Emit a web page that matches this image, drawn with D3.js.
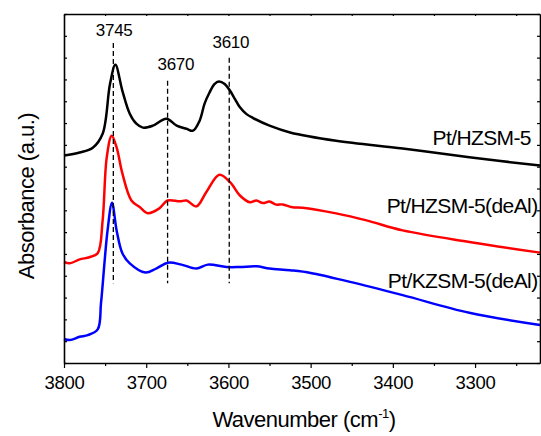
<!DOCTYPE html>
<html>
<head>
<meta charset="utf-8">
<script src="https://cdn.jsdelivr.net/npm/d3@7"></script>
<style>
  body { margin: 0; background: #fff; }
  text { font-family: "Liberation Sans", Arial, sans-serif; fill: #000; }
</style>
</head>
<body>
<div id="chart"></div>
<script>
// Spectra (wavenumber, absorbance a.u.)
const hzsmWave = [3800, 3781, 3765, 3753, 3744, 3737.5, 3729, 3720, 3712, 3704, 3692, 3675.5, 3663, 3651, 3643, 3635, 3629, 3623, 3617, 3611.6, 3604.5, 3598, 3592, 3586, 3578, 3570, 3550, 3525, 3469, 3388, 3307, 3221];
const hzsmAbs  = [0.951, 0.965, 0.987, 1.051, 1.280, 1.367, 1.248, 1.143, 1.097, 1.079, 1.088, 1.120, 1.088, 1.074, 1.065, 1.111, 1.189, 1.240, 1.279, 1.291, 1.279, 1.248, 1.210, 1.172, 1.141, 1.123, 1.088, 1.057, 1.019, 0.983, 0.943, 0.905];

const hdealWave = [3800, 3793, 3781, 3769, 3759, 3753, 3748, 3742, 3736, 3729, 3718, 3708, 3698, 3684, 3674, 3659, 3651, 3639, 3627, 3611, 3598, 3586, 3574, 3566, 3558, 3550, 3542, 3534, 3522, 3510, 3469, 3432, 3388, 3307, 3221];
const hdealAbs  = [0.463, 0.457, 0.475, 0.485, 0.503, 0.654, 0.943, 1.042, 0.989, 0.869, 0.745, 0.715, 0.687, 0.709, 0.745, 0.741, 0.745, 0.718, 0.783, 0.863, 0.829, 0.768, 0.737, 0.745, 0.733, 0.740, 0.726, 0.727, 0.714, 0.712, 0.686, 0.654, 0.608, 0.555, 0.506];

const kdealWave = [3800, 3793, 3781, 3771, 3759, 3755, 3750.5, 3747, 3741.6, 3736, 3729, 3720, 3701, 3688, 3673.5, 3657, 3639, 3625, 3602.5, 3586, 3566, 3550, 3525, 3500, 3452, 3388, 3307, 3221];
const kdealAbs  = [0.110, 0.105, 0.120, 0.128, 0.154, 0.274, 0.471, 0.608, 0.735, 0.608, 0.503, 0.457, 0.415, 0.433, 0.460, 0.451, 0.433, 0.451, 0.440, 0.440, 0.443, 0.433, 0.425, 0.413, 0.372, 0.311, 0.230, 0.174];

const seriesNames  = ["Pt/HZSM-5", "Pt/HZSM-5(deAl)", "Pt/KZSM-5(deAl)"];
const seriesColors = ["#000000", "#ff0000", "#0000ff"];
const seriesWaves  = [hzsmWave, hdealWave, kdealWave];
const seriesAbs    = [hzsmAbs, hdealAbs, kdealAbs];
// where each series name sits (wavenumber at right end, absorbance of baseline)
const nameWave = [3232, 3224, 3224];
const nameAbs  = [1.000, 0.686, 0.343];

// dashed peak markers
const peakLabels = ["3745", "3670", "3610"];
const peakLineWave = [3740, 3674, 3599];
const peakTopAbs   = [1.467, 1.294, 1.399];
const peakBottomAbs = 0.366;
const peakLabelWave = [3739, 3664, 3597];
const peakLabelAbs  = [1.499, 1.344, 1.445];

const xTicks = [3800, 3700, 3600, 3500, 3400, 3300];

const width = 541, height = 436;
const margin = { top: 14, right: 1, bottom: 73, left: 64 };

const svg = d3.select("#chart").append("svg")
    .attr("width", width)
    .attr("height", height);

const x = d3.scaleLinear()
    .domain([3800, 3221])
    .range([margin.left, width - margin.right]);

const y = d3.scaleLinear()
    .domain([0, 1.6])
    .range([height - margin.bottom, margin.top]);

// Curves
const line = d3.line()
    .x(d => x(d[0]))
    .y(d => y(d[1]))
    .curve(d3.curveCatmullRom.alpha(0.5));

seriesNames.forEach((name, i) => {
    const pts = seriesWaves[i].map((w, j) => [w, seriesAbs[i][j]]);
    svg.append("path")
        .datum(pts)
        .attr("fill", "none")
        .attr("stroke", seriesColors[i])
        .attr("stroke-width", 2.5)
        .attr("stroke-linejoin", "round")
        .attr("d", line);

    svg.append("text")
        .attr("x", x(nameWave[i]))
        .attr("y", y(nameAbs[i]))
        .attr("text-anchor", "end")
        .attr("font-size", 21)
        .attr("letter-spacing", -0.6)
        .text(name);
});

// Peak markers
peakLabels.forEach((lab, i) => {
    svg.append("line")
        .attr("x1", x(peakLineWave[i]))
        .attr("x2", x(peakLineWave[i]))
        .attr("y1", y(peakTopAbs[i]))
        .attr("y2", y(peakBottomAbs))
        .attr("stroke", "#000")
        .attr("stroke-width", 1.3)
        .attr("stroke-dasharray", "5,3");

    svg.append("text")
        .attr("x", x(peakLabelWave[i]))
        .attr("y", y(peakLabelAbs[i]))
        .attr("text-anchor", "middle")
        .attr("font-size", 17)
        .attr("letter-spacing", -0.3)
        .text(lab);
});

// Axes
const xAxis = svg.append("g")
    .attr("transform", `translate(0,${y(0)})`)
    .call(d3.axisBottom(x).tickValues(xTicks).tickFormat(d3.format("d")).tickSize(5).tickSizeOuter(0));
xAxis.selectAll("text").attr("font-size", 18.5).attr("dy", "0.95em").attr("letter-spacing", -0.3)
    .style("font-family", "'Liberation Sans', Arial, sans-serif");

const minorX = d3.range(3750, 3221, -100);
svg.append("g")
    .attr("transform", `translate(0,${y(0)})`)
    .call(d3.axisBottom(x).tickValues(minorX).tickFormat("").tickSize(3).tickSizeOuter(0))
    .select(".domain").remove();

// top axis, ticks inward
svg.append("g")
    .attr("transform", `translate(0,${y(1.6)})`)
    .call(d3.axisBottom(x).tickValues(d3.range(3800, 3221, -50)).tickFormat("").tickSize(2).tickSizeOuter(0));

// left and right axes, ticks inward, no labels
const yTicks = d3.range(0, 1.61, 0.1);
svg.append("g")
    .attr("transform", `translate(${x(3800)},0)`)
    .call(d3.axisRight(y).tickValues(yTicks).tickFormat("").tickSize(3).tickSizeOuter(0));
svg.append("g")
    .attr("transform", `translate(${x(3221)},0)`)
    .call(d3.axisLeft(y).tickValues(yTicks).tickFormat("").tickSize(3).tickSizeOuter(0));

svg.selectAll(".domain").attr("stroke-width", 1.6);
svg.selectAll(".tick line").attr("stroke-width", 1.2);

// Axis titles
const xt = svg.append("text")
    .attr("x", (x(3800) + x(3221)) / 2 + 2)
    .attr("y", 427)
    .attr("text-anchor", "middle")
    .attr("font-size", 22)
    .attr("letter-spacing", -0.5);
xt.append("tspan").text("Wavenumber (cm");
xt.append("tspan").attr("font-size", 13).attr("dy", -9).text("-1");
xt.append("tspan").attr("dy", 9).text(")");

svg.append("text")
    .attr("transform", `translate(34,196) rotate(-90)`)
    .attr("text-anchor", "middle")
    .attr("font-size", 22)
    .attr("letter-spacing", -0.5)
    .text("Absorbance (a.u.)");
</script>
</body>
</html>
